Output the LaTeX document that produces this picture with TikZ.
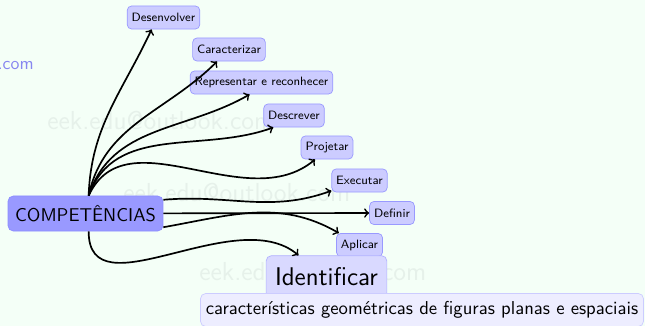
\documentclass[tikz,border=0pt]{standalone}
\usepackage{tikz}
\usetikzlibrary{shapes,arrows,positioning,calc}
\usepackage{xcolor}
\definecolor{mintback}{RGB}{244,255,247}
\definecolor{markblue}{RGB}{135,135,240}
\definecolor{markgray}{RGB}{230,241,234}

\begin{document}
\begin{tikzpicture}[x=0.5625pt,y=-0.5625pt,font=\sffamily,
    verbo/.style={rectangle,rounded corners=2.5pt,fill=blue!20,draw=blue!40,font=\sffamily\fontsize{6.8}{8}\selectfont,inner sep=2.5pt,minimum height=13pt},
    ramo/.style={->,line width=0.95pt}]
        % Background and watermarks
        \fill[mintback] (0,0) rectangle (645,326);
        \useasboundingbox (0,0) rectangle (645,326);
        \node[text=markblue,anchor=east,inner sep=0pt] (wm0) at (34,66) {.com};
        \node[text=markgray,anchor=west,inner sep=0pt,font=\sffamily\fontsize{14.6}{18}\selectfont] (wm1) at (47,120) {eek.edu@outlook.com};
        \node[text=markgray,anchor=west,inner sep=0pt,font=\sffamily\fontsize{14.6}{18}\selectfont] (wm2) at (123,192) {eek.edu@outlook.com};
        \node[text=markgray,anchor=west,inner sep=0pt,font=\sffamily\fontsize{14.6}{18}\selectfont] (wm3) at (199,271) {eek.edu@outlook.com};
        
        % Central node
        \node[rectangle,rounded corners=3pt,fill=blue!40,draw=blue!45,inner sep=4pt,minimum height=19.7pt,font=\sffamily\fontsize{10.4}{12}\selectfont] (comp) at (85.5,213.5) {COMPETÊNCIAS};
        
        % Verbs
        \node[verbo] (desenv) at (163.5,17.5) {Desenvolver};
        \node[verbo] (caract) at (229,49.5) {Caracterizar};
        \node[verbo] (repres) at (261.5,82.5) {Representar e reconhecer};
        \node[verbo] (descr) at (294,115.5) {Descrever};
        \node[verbo] (proj) at (327,147.5) {Projetar};
        \node[verbo] (exec) at (359.5,180.5) {Executar};
        \node[verbo] (defin) at (392,213) {Definir};
        \node[verbo] (aplic) at (359.5,245) {Aplicar};
        
        % Identificar and its object
        \node[rectangle,rounded corners=3pt,fill=blue!15,draw=blue!30,inner sep=5pt,minimum height=24pt,font=\sffamily\Large] (ident) at (326.5,277) {Identificar};
        \node[rectangle,rounded corners=3pt,fill=blue!7,draw=blue!20,inner sep=3pt,minimum height=18.6pt,minimum width=249pt,font=\sffamily\fontsize{10.5}{12}\selectfont] (obj) at (422,310) {características geométricas de figuras planas e espaciais};
        
        % Branches
        \draw[ramo] (comp.80) to[out=88,in=-115] (desenv.-135);
        \draw[ramo] (comp.80) to[out=78,in=-135] (caract.-135);
        \draw[ramo] (comp.80) to[out=72,in=-150] (repres.-135);
        \draw[ramo] (comp.80) to[out=70,in=-160] (descr.-150);
        \draw[ramo] (comp.80) to[out=65,in=-140] (proj.-135);
        \draw[ramo] (comp.10) to[out=5,in=-160] (exec.-160);
        \draw[ramo] (comp) -- (defin);
        \draw[ramo] (comp.-10) to[out=10,in=150] (aplic.150);
        \draw[ramo] (comp.-80) to[out=-90,in=140] ($(ident.north)+(-28,0)$);
\end{tikzpicture}
\end{document}
